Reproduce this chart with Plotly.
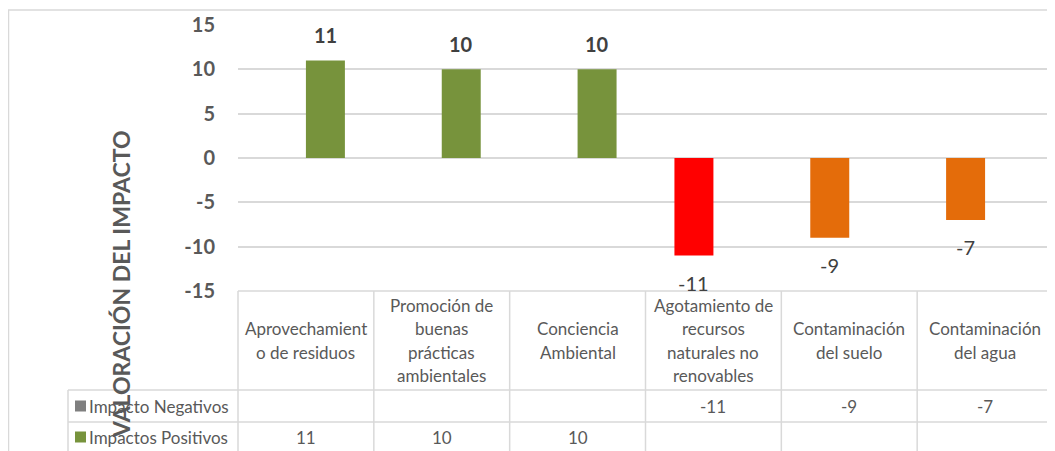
import plotly.graph_objects as go

# ---------------- data ----------------
categories = [
    "Aprovechamiento de residuos",
    "Promoción de buenas prácticas ambientales",
    "Conciencia Ambiental",
    "Agotamiento de recursos naturales no renovables",
    "Contaminación del suelo",
    "Contaminación del agua",
]
category_lines = [
    ["Aprovechamient", "o de residuos"],
    ["Promoción de", "buenas", "prácticas", "ambientales"],
    ["Conciencia", "Ambiental"],
    ["Agotamiento de", "recursos", "naturales no", "renovables"],
    ["Contaminación", "del suelo"],
    ["Contaminación", "del agua"],
]
neg_name = "Impacto Negativos"
neg_values = [None, None, None, -11, -9, -7]
neg_point_colors = ["#7F7F7F", "#7F7F7F", "#7F7F7F", "#FF0000", "#E46C0A", "#E46C0A"]
neg_legend_color = "#7F7F7F"

pos_name = "Impactos Positivos"
pos_values = [11, 10, 10, None, None, None]
pos_color = "#77933C"

y_title = "VALORACIÓN DEL IMPACTO"
y_ticks = [-15, -10, -5, 0, 5, 10, 15]

# ---------------- layout geometry (page pixels) ----------------
OFF = 8  # default body margin of the html page
W, H = 1055 - OFF, 451 - OFF
PL, PT, PW, PH = 238, 25, 815, 266   # plot area in page pixels
FONT = "Lato"
GRID = "#D9D9D9"
TXT = "#595959"
n = len(categories)


def px(x):
    return (x - PL) / PW


def py(y):
    return (PT + PH - y) / PH


bargap = 0.426
bar_px = (PW / n) * (1 - bargap) / 2

fig = go.Figure()
fig.add_trace(go.Bar(x=categories, y=neg_values, name=neg_name,
                     marker=dict(color=neg_point_colors, line=dict(width=0))))
fig.add_trace(go.Bar(x=categories, y=pos_values, name=pos_name,
                     marker=dict(color=pos_color, line=dict(width=0))))

annotations = []
shapes = []

# data labels
for i, v in enumerate(pos_values):
    if v is not None:
        annotations.append(dict(x=categories[i], y=v, xref="x", yref="y",
                                text=f"<b>{v}</b>", showarrow=False,
                                xshift=bar_px / 2, yshift=25, yanchor="middle",
                                font=dict(family=FONT, size=20, color="#404040")))
for i, v in enumerate(neg_values):
    if v is not None:
        annotations.append(dict(x=categories[i], y=v, xref="x", yref="y",
                                text=f"{v}", showarrow=False,
                                xshift=-bar_px / 2, yshift=-27, yanchor="middle",
                                font=dict(family=FONT, size=20, color="#404040")))

# y axis title
annotations.append(dict(x=px(121), y=py(285), xref="paper", yref="paper",
                        text=f"<b>{y_title}</b>", textangle=-90, showarrow=False,
                        xanchor="center", yanchor="middle",
                        font=dict(family=FONT, size=23, color=TXT)))

# ---------------- data table ----------------
hdr_top, hdr_bot, r1_bot, tbl_bot = 291, 390, 422, 460
leg_left = 68
line = dict(color=GRID, width=1.5)

shapes.append(dict(type="line", xref="paper", yref="paper",
                   x0=0, x1=1, y0=py(hdr_top), y1=py(hdr_top), line=line))
for i in range(n + 1):
    shapes.append(dict(type="line", xref="paper", yref="paper",
                       x0=i / n, x1=i / n, y0=py(hdr_top), y1=py(tbl_bot), line=line))
for yy in (hdr_bot, r1_bot):
    shapes.append(dict(type="line", xref="paper", yref="paper",
                       x0=px(leg_left), x1=1, y0=py(yy), y1=py(yy), line=line))
shapes.append(dict(type="line", xref="paper", yref="paper",
                   x0=px(leg_left), x1=px(leg_left), y0=py(hdr_bot), y1=py(tbl_bot), line=line))

# header text
hdr_center = (hdr_top + hdr_bot) / 2
lh = 23.5
for i, lines in enumerate(category_lines):
    m = len(lines)
    for j, t in enumerate(lines):
        yc = hdr_center + (j - (m - 1) / 2) * lh
        annotations.append(dict(x=(i + 0.5) / n, y=py(yc), xref="paper", yref="paper",
                                text=t, showarrow=False, xanchor="center", yanchor="middle",
                                font=dict(family=FONT, size=17, color=TXT)))

rows = [
    (neg_name, neg_legend_color, neg_values, (hdr_bot + r1_bot) / 2),
    (pos_name, pos_color, pos_values, 437),
]
for name, col, vals, yc in rows:
    shapes.append(dict(type="rect", xref="paper", yref="paper",
                       x0=px(75), x1=px(86), y0=py(yc - 5.5), y1=py(yc + 5.5),
                       fillcolor=col, line=dict(width=0)))
    annotations.append(dict(x=px(87), y=py(yc), xref="paper", yref="paper",
                            text=name, showarrow=False, xanchor="left", yanchor="middle",
                            font=dict(family=FONT, size=17, color=TXT)))
    for i, v in enumerate(vals):
        if v is not None:
            annotations.append(dict(x=(i + 0.5) / n, y=py(yc), xref="paper", yref="paper",
                                    text=str(v), showarrow=False, xanchor="center",
                                    yanchor="middle",
                                    font=dict(family=FONT, size=17, color=TXT)))

# outer chart border
shapes.append(dict(type="rect", xref="paper", yref="paper",
                   x0=px(8.5), x1=px(1054), y0=py(10), y1=py(470),
                   line=dict(color=GRID, width=1.5), fillcolor="rgba(0,0,0,0)"))

fig.update_layout(
    width=W, height=H,
    margin=dict(l=PL - OFF, r=(W + OFF) - PL - PW, t=PT - OFF,
                b=(H + OFF) - PT - PH, pad=0),
    paper_bgcolor="white", plot_bgcolor="white",
    barmode="group", bargap=bargap, bargroupgap=0,
    showlegend=False,
    annotations=annotations, shapes=shapes,
    xaxis=dict(type="category", range=[-0.5, n - 0.5], showticklabels=False,
               showgrid=False, zeroline=False, showline=False, ticks=""),
    yaxis=dict(range=[-15, 15], tickvals=y_ticks, ticktext=[str(v) for v in y_ticks],
               showgrid=True, gridcolor=GRID,
               gridwidth=1.5, zeroline=False, showline=False, ticks="",
               ticklabelstandoff=22,
               tickfont=dict(family=FONT, size=20, color=TXT, weight="bold")),
)

fig.write_html("out.html")
